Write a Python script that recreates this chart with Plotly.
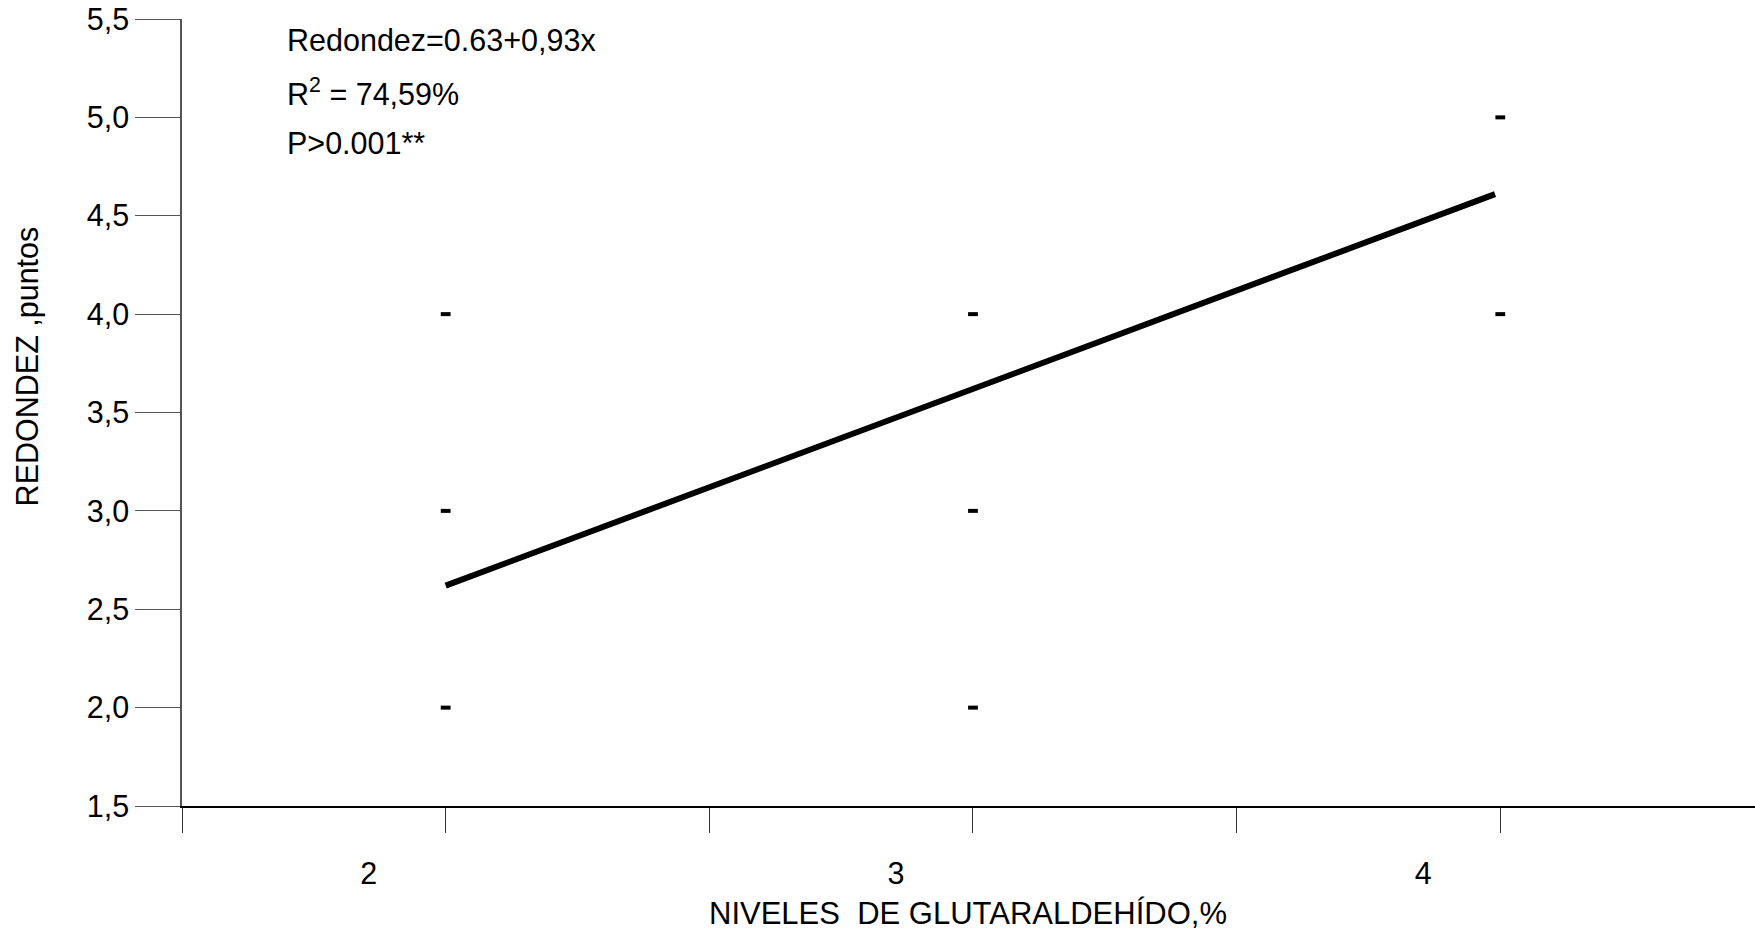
import plotly.graph_objects as go

# Data
x_points = [2, 2, 2, 3, 3, 3, 4, 4]
y_points = [4, 3, 2, 4, 3, 2, 5, 4]

line_x = [2.0, 3.99]
line_y = [2.62, 4.61]

x_tickvals = [2, 3, 4]
x_ticktext = ["2", "3", "4"]
y_tickvals = [1.5, 2.0, 2.5, 3.0, 3.5, 4.0, 4.5, 5.0, 5.5]
y_ticktext = ["1,5", "2,0", "2,5", "3,0", "3,5", "4,0", "4,5", "5,0", "5,5"]

FONT = "Liberation Sans, Arial, sans-serif"
FS = 30.5

fig = go.Figure()
fig.add_trace(go.Scatter(
    x=line_x, y=line_y, mode="lines",
    line=dict(color="black", width=6), showlegend=False, hoverinfo="skip"))
fig.add_trace(go.Scatter(
    x=x_points, y=y_points, mode="markers",
    marker=dict(symbol="line-ew", size=7, line=dict(color="black", width=4)),
    showlegend=False))

fig.update_layout(
    width=1755, height=936,
    margin=dict(l=182, r=0, t=19, b=130),
    paper_bgcolor="white", plot_bgcolor="white",
    font=dict(family=FONT, size=FS, color="black"),
    xaxis=dict(
        range=[1.5, 4.483], tickmode="array", tickvals=x_tickvals, ticktext=x_ticktext,
        showgrid=False, zeroline=False, showline=True, linecolor="black", linewidth=1.5,
        ticks="outside", ticklen=25, tickwidth=1, tickcolor="#333",
        minor=dict(tick0=1.5, dtick=0.5, ticks="outside", ticklen=25, tickwidth=1,
                   tickcolor="#333", showgrid=False),
        ticklabelshift=-77, ticklabelstandoff=15,
        tickfont=dict(family=FONT, size=FS, color="black")),
    yaxis=dict(
        range=[1.5, 5.5], tickmode="array", tickvals=y_tickvals, ticktext=y_ticktext,
        showgrid=False, zeroline=False, showline=True, linecolor="#555", linewidth=1.5,
        ticks="outside", ticklen=45, tickwidth=1.2, tickcolor="#555",
        tickfont=dict(family=FONT, size=FS, color="black")),
    annotations=[
        dict(text="Redondez=0.63+0,93x", xref="paper", yref="paper", x=0.0655, y=0.973,
             xanchor="left", yanchor="middle", showarrow=False),
        dict(text="R<sup>2</sup> = 74,59%", xref="paper", yref="paper", x=0.0655, y=0.907,
             xanchor="left", yanchor="middle", showarrow=False),
        dict(text="P>0.001**", xref="paper", yref="paper", x=0.0655, y=0.843,
             xanchor="left", yanchor="middle", showarrow=False),
        dict(text="NIVELES\u00a0\u00a0DE GLUTARALDEHÍDO,%", xref="paper", yref="paper",
             x=0.4995, y=-0.137, xanchor="center", yanchor="middle", showarrow=False,
             font=dict(size=31)),
        dict(text="REDONDEZ ,puntos", xref="paper", yref="paper", x=-0.0982, y=0.558,
             xanchor="center", yanchor="middle", textangle=-90, showarrow=False),
    ],
)

fig.write_html("out.html")
